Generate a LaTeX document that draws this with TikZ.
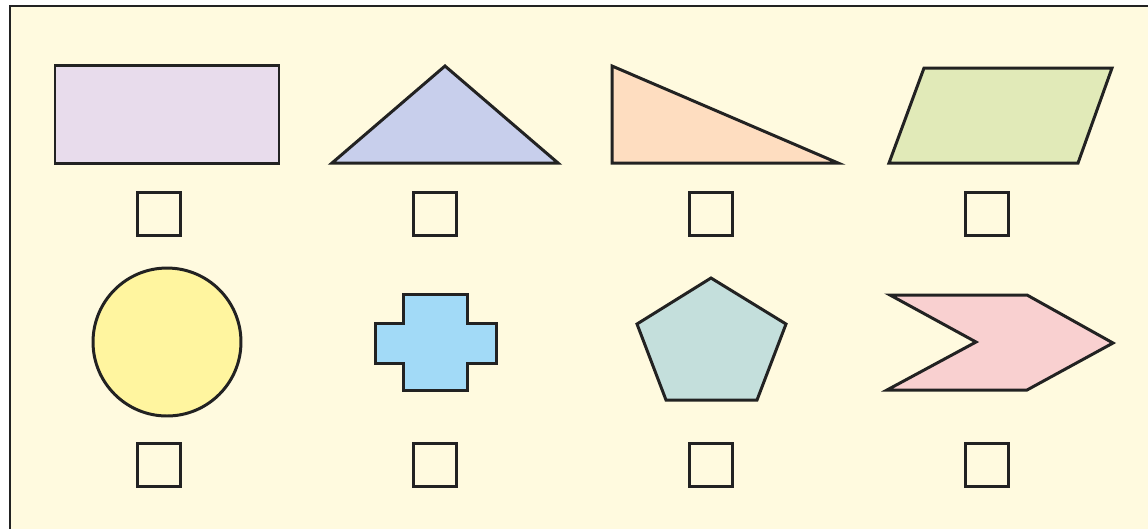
\documentclass[tikz,border=0pt]{standalone}
\usepackage{tikz}

\definecolor{bgcream}{HTML}{FFFADF}
\definecolor{inkdark}{HTML}{222222}
\definecolor{lavender}{HTML}{E8DCEC}
\definecolor{periwinkle}{HTML}{C8CFEC}
\definecolor{peach}{HTML}{FEDDC0}
\definecolor{lime}{HTML}{E1EAB8}
\definecolor{lemon}{HTML}{FFF59F}
\definecolor{skyblue}{HTML}{A2DAF7}
\definecolor{seafoam}{HTML}{C4DFDC}
\definecolor{rosepink}{HTML}{F9D0D0}

\tikzset{
  shapeline/.style={draw=inkdark, line width=1.7pt, line join=miter},
  tickbox/.style={draw=inkdark, rectangle, line width=1.4pt, minimum size=0.86cm, inner sep=0pt}
}

\begin{document}
\begin{tikzpicture}[x=0.02cm, y=-0.02cm]
\useasboundingbox (0,0) rectangle (1148,529);
% background card
\fill[bgcream] (10,6) rectangle (1148,529);
\draw[inkdark, line width=1.4pt] (1148,6) -- (10,6) -- (10,529);

% top row of shapes
\draw[shapeline, fill=lavender] (55,65) rectangle (279,163);
\draw[shapeline, fill=periwinkle] (332,163) -- (445,66) -- (558,163) -- cycle;
\draw[shapeline, fill=peach] (612,66) -- (612,163) -- (838,163) -- cycle;
\draw[shapeline, fill=lime] (924,68) -- (1112,68) -- (1078,163) -- (889,163) -- cycle;

% bottom row of shapes
\draw[shapeline, fill=lemon] (167,342) circle[radius=1.48cm];
\draw[shapeline, fill=skyblue] (403,294) -- (467,294) -- (467,323) -- (496,323)
  -- (496,363) -- (467,363) -- (467,390) -- (403,390) -- (403,363) -- (375,363)
  -- (375,323) -- (403,323) -- cycle;
\draw[shapeline, fill=seafoam] (711,278) -- (786,324) -- (757,400) -- (666,400)
  -- (637,324) -- cycle;
\draw[shapeline, fill=rosepink] (890,295) -- (1027,295) -- (1113,343) -- (1027,390)
  -- (887,390) -- (976,342) -- cycle;

% answer boxes
\foreach \col/\xpos in {1/159, 2/435, 3/711, 4/987} {
  \node[tickbox] (boxA\col) at (\xpos,214) {};
  \node[tickbox] (boxB\col) at (\xpos,465) {};
}
\end{tikzpicture}
\end{document}
